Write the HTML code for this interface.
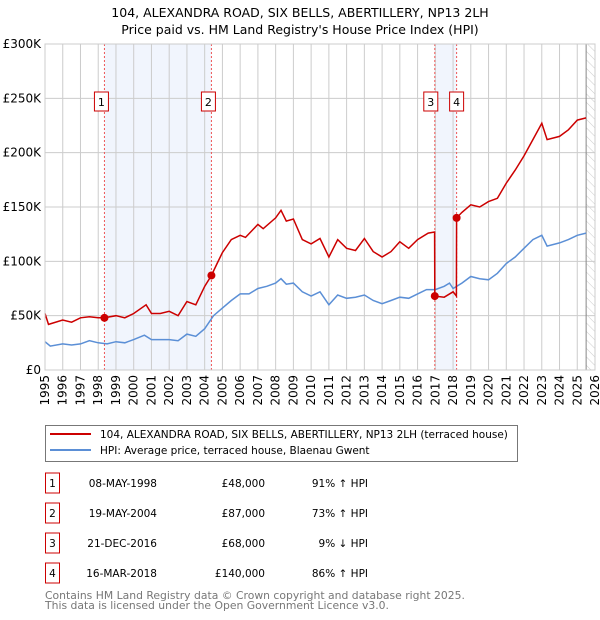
<!DOCTYPE html>
<html><head><meta charset="utf-8"><style>
body{margin:0;background:#fff;font-family:"DejaVu Sans","Liberation Sans",sans-serif;}
#wrap{position:relative;width:600px;height:620px;overflow:hidden}
</style></head><body>
<div id="wrap">
<svg id="chart" width="600" height="620" xmlns="http://www.w3.org/2000/svg" font-family="DejaVu Sans, Liberation Sans, sans-serif"></svg>
</div>
<script>
const yearTicks=[1995,1996,1997,1998,1999,2000,2001,2002,2003,2004,2005,2006,2007,2008,2009,2010,2011,2012,2013,2014,2015,2016,2017,2018,2019,2020,2021,2022,2023,2024,2025,2026];
const valueTicks=[0,50,100,150,200,250,300];
const valueTickLabels=["£0","£50K","£100K","£150K","£200K","£250K","£300K"];
const hpiYears=[1995,1995.3,1996,1996.5,1997,1997.5,1998,1998.5,1999,1999.5,2000,2000.6,2001,2001.5,2002,2002.5,2003,2003.5,2004,2004.5,2005,2005.5,2006,2006.5,2007,2007.5,2008,2008.3,2008.6,2009,2009.5,2010,2010.5,2011,2011.5,2012,2012.5,2013,2013.5,2014,2014.5,2015,2015.5,2016,2016.5,2017,2017.5,2017.8,2018,2018.5,2019,2019.5,2020,2020.5,2021,2021.5,2022,2022.5,2023,2023.3,2024,2024.5,2025,2025.5];
const hpiValues=[26,22,24,23,24,27,25,24,26,25,28,32,28,28,28,27,33,31,38,50,57,64,70,70,75,77,80,84,79,80,72,68,72,60,69,66,67,69,64,61,64,67,66,70,74,74,77,80,75,80,86,84,83,89,98,104,112,120,124,114,117,120,124,126];
const priceYears=[1995,1995.2,1996,1996.5,1997,1997.5,1998,1998.35,1999,1999.5,2000,2000.7,2001,2001.5,2002,2002.5,2003,2003.5,2004,2004.38,2004.7,2005,2005.5,2006,2006.3,2007,2007.3,2008,2008.3,2008.6,2009,2009.5,2010,2010.5,2011,2011.5,2012,2012.5,2013,2013.5,2014,2014.5,2015,2015.5,2016,2016.6,2016.96,2016.97,2017.5,2018,2018.19,2018.2,2018.5,2019,2019.5,2020,2020.5,2021,2021.5,2022,2022.5,2023,2023.3,2024,2024.5,2025,2025.5];
const priceValues=[52,42,46,44,48,49,48,48,50,48,52,60,52,52,54,50,63,60,77,87,98,108,120,124,122,134,130,140,147,137,139,120,116,121,104,120,112,110,121,109,104,109,118,112,120,126,127,68,67,72,68,140,145,152,150,155,158,172,184,197,212,227,212,215,221,230,232];
const saleYears=[1998.35,2004.38,2016.97,2018.2];
const saleValues=[48,87,68,140];
const saleLabels=["1","2","3","4"];

const NS="http://www.w3.org/2000/svg";
const svg=document.getElementById('chart');
const L=45,R=595,T=44,B=370;
const X=y=>L+(y-1995)*(R-L)/31;
const Y=v=>B-v*(B-T)/300;
function mk(tag,attrs,parent){const e=document.createElementNS(NS,tag);for(const k in attrs)e.setAttribute(k,attrs[k]);(parent||svg).appendChild(e);return e;}

[[0,1],[2,3]].forEach(p=>{
 const r=mk('rect',{x:X(saleYears[p[0]]),y:T,width:X(saleYears[p[1]])-X(saleYears[p[0]]),height:B-T,fill:'#eef3fd',opacity:0.8});
 
 
});
const defs=mk('defs',{});
const pat=mk('pattern',{id:'hatch',width:6,height:6,patternUnits:'userSpaceOnUse',patternTransform:'rotate(-45)'},defs);
mk('line',{x1:0,y1:0,x2:0,y2:6,stroke:'#ccc','stroke-width':1},pat);
const hr=mk('rect',{x:X(2025.5),y:T,width:R-X(2025.5),height:B-T,fill:'url(#hatch)'});


yearTicks.forEach(yr=>{
 const g=mk('line',{x1:X(yr),x2:X(yr),y1:T,y2:B,stroke:'#cccccc','stroke-width':1});
 
 
 const t=mk('text',{x:0,y:0,'font-size':12,fill:'#000','text-anchor':'end','transform':`translate(${X(yr)+4},${B+5}) rotate(-90)`});
 t.textContent=yr;
 
 
});
valueTicks.forEach((v,i)=>{
 const g=mk('line',{x1:L,x2:R,y1:Y(v),y2:Y(v),stroke:'#cccccc','stroke-width':1});
 
 
 const t=mk('text',{x:L-4,y:Y(v)+4,'font-size':12,'text-anchor':'end',fill:'#000'});
 t.textContent=valueTickLabels[i];
 
 
});
mk('line',{x1:X(2025.5),x2:X(2025.5),y1:T,y2:B,stroke:'#888','stroke-width':1});
saleYears.forEach((yr,i)=>{
 const l=mk('line',{x1:X(yr),x2:X(yr),y1:T,y2:B,stroke:'#ee5555','stroke-width':1,'stroke-dasharray':'2,2'});
 
 
 const bx=X(yr)+(i==2?-4:(i==3?0:-3)) - 7;
 const b=mk('rect',{x:bx,y:92,width:14,height:19,fill:'#fff',stroke:'#cc0000','stroke-width':1});
 
 
 const t=mk('text',{x:bx+7,y:106,'font-size':11,'text-anchor':'middle',fill:'#000'});
 t.textContent=saleLabels[i];
 
 
});
function path(xs,vs){return xs.map((x,i)=>(i?'L':'M')+X(x).toFixed(1)+','+Y(vs[i]).toFixed(1)).join('');}
const hp=mk('path',{d:path(hpiYears,hpiValues),fill:'none',stroke:'#5b8fd6','stroke-width':1.5});


const pp=mk('path',{d:path(priceYears,priceValues),fill:'none',stroke:'#cc0000','stroke-width':1.5});


saleYears.forEach((yr,i)=>{
 const c=mk('circle',{cx:X(yr),cy:Y(saleValues[i]),r:4,fill:'#cc0000'});
 
 
});
mk('rect',{x:L,y:T,width:R-L,height:B-T,fill:'none',stroke:'#cccccc'});
[["104, ALEXANDRA ROAD, SIX BELLS, ABERTILLERY, NP13 2LH",17],["Price paid vs. HM Land Registry's House Price Index (HPI)",34]].forEach((s,i)=>{
 const t=mk('text',{x:300,y:s[1],'font-size':12.5,'text-anchor':'middle',fill:'#000'});
 t.textContent=s[0];
 
 
});
const lg=mk('rect',{x:45.5,y:425.5,width:472,height:36,fill:'#fff',stroke:'#777'});


[["104, ALEXANDRA ROAD, SIX BELLS, ABERTILLERY, NP13 2LH (terraced house)",'#cc0000',438],["HPI: Average price, terraced house, Blaenau Gwent",'#5b8fd6',454]].forEach((s,i)=>{
 mk('line',{x1:50,x2:91,y1:s[2]-4,y2:s[2]-4,stroke:s[1],'stroke-width':2});
 const t=mk('text',{x:100,y:s[2],'font-size':10.5,fill:'#000'});
 t.textContent=s[0];
 
 
});
const rows=[["1","08-MAY-1998","£48,000","91% ↑ HPI"],["2","19-MAY-2004","£87,000","73% ↑ HPI"],["3","21-DEC-2016","£68,000","9% ↓ HPI"],["4","16-MAR-2018","£140,000","86% ↑ HPI"]];
rows.forEach((r,i)=>{
 const cy=483+i*30;
 const b=mk('rect',{x:45.5,y:cy-10,width:14,height:20,fill:'#fff',stroke:'#cc0000'});
 
 
 const cols=[[52.5,'middle'],[157,'end'],[265,'end'],[368,'end']];
 r.forEach((txt,j)=>{
  const t=mk('text',{x:cols[j][0],y:cy+4,'font-size':10.5,'text-anchor':cols[j][1],fill:'#000'});
  t.textContent=txt;
  
  
 });
});
[["Contains HM Land Registry data © Crown copyright and database right 2025.",599],["This data is licensed under the Open Government Licence v3.0.",609]].forEach(s=>{
 const t=mk('text',{x:45,y:s[1],'font-size':10.8,fill:'#777'});
 t.textContent=s[0];
 
 
});
</script>
</body></html>
